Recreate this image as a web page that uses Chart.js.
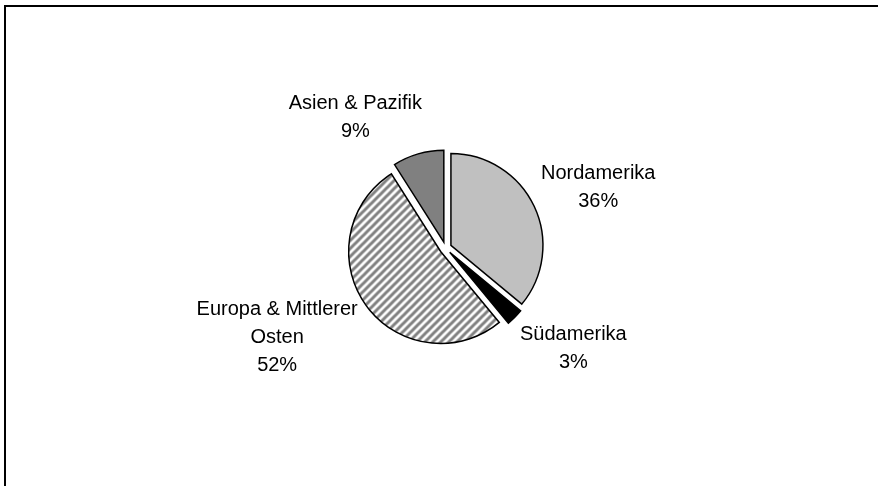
<!DOCTYPE html>
<html>
<head>
<meta charset="utf-8">
<title>Umsatz nach Regionen</title>
<script src="https://cdn.jsdelivr.net/npm/chart.js@4.4.1/dist/chart.umd.min.js"></script>
<style>
  html, body { margin: 0; padding: 0; background: #fff; }
  #wrap { position: relative; width: 878px; height: 486px; }
</style>
</head>
<body>
<div id="wrap"><canvas id="regionPie" width="878" height="486"></canvas></div>
<script>
// slice data, clockwise from 12 o'clock
const regions = ['Nordamerika', 'Südamerika', 'Europa & Mittlerer Osten', 'Asien & Pazifik'];
const shares = [36, 3, 52, 9];
const labelLines = [['Nordamerika'], ['Südamerika'], ['Europa & Mittlerer', 'Osten'], ['Asien & Pazifik']];

// label block centres, in pie radii from the pie centre
const labelSpots = [[1.66, -0.66], [1.39, 1.09], [-1.83, 0.97], [-0.98, -1.42]];

const EXPLODE = 6;      // px each slice is pulled out
const LINE_H = 28;

// diagonal hatch for the Europe slice
function makeHatch() {
  const c = document.createElement('canvas');
  c.width = 8; c.height = 8;
  const g = c.getContext('2d');
  g.fillStyle = '#fff';
  g.fillRect(0, 0, 8, 8);
  g.strokeStyle = '#808080';
  g.lineWidth = 3;
  g.beginPath();
  g.moveTo(-2, 10); g.lineTo(10, -2);
  g.moveTo(-2, 2); g.lineTo(2, -2);
  g.moveTo(6, 10); g.lineTo(10, 6);
  g.stroke();
  return g.createPattern(c, 'repeat');
}

const sliceColors = ['#c0c0c0', '#000000', makeHatch(), '#808080'];

// left and top rule of the chart frame
const framePlugin = {
  id: 'frame',
  beforeDraw(chart) {
    const ctx = chart.ctx;
    ctx.save();
    ctx.strokeStyle = '#000';
    ctx.lineWidth = 2;
    ctx.beginPath();
    ctx.moveTo(5, chart.height);
    ctx.lineTo(5, 6);
    ctx.lineTo(chart.width, 6);
    ctx.stroke();
    ctx.restore();
  }
};

// draw every slice shifted outwards along its mid angle
const explodePlugin = {
  id: 'explode',
  beforeDatasetDraw(chart, args) {
    const ctx = chart.ctx;
    args.meta.data.forEach(arc => {
      const mid = (arc.startAngle + arc.endAngle) / 2;
      ctx.save();
      ctx.translate(Math.cos(mid) * EXPLODE, Math.sin(mid) * EXPLODE);
      arc.draw(ctx);
      ctx.restore();
    });
    return false;
  }
};

// category name + percentage beside each slice
const labelPlugin = {
  id: 'sliceLabels',
  afterDatasetsDraw(chart) {
    const ctx = chart.ctx;
    const meta = chart.getDatasetMeta(0);
    ctx.save();
    ctx.fillStyle = '#000';
    ctx.font = '20px "Liberation Sans", Arial, sans-serif';
    ctx.textAlign = 'center';
    ctx.textBaseline = 'middle';
    meta.data.forEach((arc, i) => {
      const r = arc.outerRadius;
      const lines = labelLines[i].concat([shares[i] + '%']);
      const cx = arc.x + labelSpots[i][0] * r;
      const cy = arc.y + labelSpots[i][1] * r;
      const top = cy - (lines.length - 1) * LINE_H / 2;
      lines.forEach((t, k) => ctx.fillText(t, cx, top + k * LINE_H));
    });
    ctx.restore();
  }
};

new Chart(document.getElementById('regionPie'), {
  type: 'pie',
  data: {
    labels: regions,
    datasets: [{
      data: shares,
      backgroundColor: sliceColors,
      borderColor: '#000',
      borderWidth: 1.5,
      borderJoinStyle: 'miter',
      hoverOffset: 0,
      hoverBorderWidth: 1.5,
      radius: 92
    }]
  },
  options: {
    responsive: false,
    animation: false,
    events: [],
    layout: { padding: { left: 13, top: 10, right: 0, bottom: 0 } },
    plugins: {
      legend: { display: false },
      tooltip: { enabled: false }
    }
  },
  plugins: [framePlugin, explodePlugin, labelPlugin]
});
</script>
</body>
</html>
